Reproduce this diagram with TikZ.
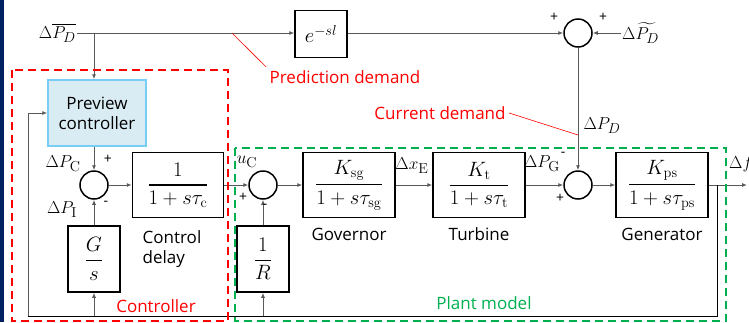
\documentclass[tikz,border=0pt]{standalone}
\usepackage{amsmath}
\usepackage[no-math]{fontspec}
\setmainfont{Open Sans}
\usepackage{xcolor}
\definecolor{ctrlred}{RGB}{255,0,0}
\definecolor{plantgreen}{RGB}{0,176,80}
\definecolor{pvfill}{RGB}{218,236,243}
\definecolor{pvedge}{RGB}{120,205,245}
\definecolor{linegray}{RGB}{89,89,89}
\definecolor{slidenavy}{RGB}{0,32,96}
\usetikzlibrary{arrows.meta, positioning, calc}
\newcommand{\blkfrac}[2]{\genfrac{}{}{1.3pt}{0}{#1}{#2}}

\begin{document}
\begin{tikzpicture}[x=1pt, y=-1pt,
  font=\fontsize{17}{20}\selectfont,
  blk/.style={draw=black, line width=1.5pt, fill=white, inner sep=0pt, font=\fontsize{19.5}{22}\selectfont},
  sumc/.style={draw=black, line width=1.5pt, circle, minimum size=28pt, inner sep=0pt},
  sig/.style={linegray, line width=0.9pt, -{Latex[length=5pt,width=4pt]}},
  sigl/.style={font=\fontsize{19}{22}\selectfont, inner sep=1pt},
  sgn/.style={font=\fontsize{14}{14}\selectfont}]
  \useasboundingbox (0,0) rectangle (749,322);
  % Slide edge
  \fill[slidenavy] (0,0) rectangle (4,322);

  % Top line -- demand prediction
  \node[sigl, anchor=east] (pdbar) at (77,33) {$\Delta\overline{P_D}$};
  \node[blk, minimum width=52pt, minimum height=47pt] (esl) at (321,34) {$e^{-sl}$};
  \node[sumc] (sumd) at (578,33) {};
  \node[sigl, anchor=west] (pdtil) at (621,33) {$\Delta\widetilde{P_D}$};
  \draw[sig] (pdbar.east) -- (pdbar.east -| esl.west);
  \draw[sig] (pdbar.east -| esl.east) -- (sumd.west);
  \draw[sig] (pdtil.west) -- (sumd.east);
  \node[sgn] at (554,17) {+};
  \node[sgn] at (603,17) {+};

  % Controller
  \coordinate (br) at (94,33);
  \node[draw=pvedge, fill=pvfill, line width=1.5pt, minimum width=98pt, minimum height=66pt,
        align=center] (prev) at (97,113) {Preview\\controller};
  \draw[sig] (br) -- (br |- prev.north);
  \node[sumc] (sumc1) at (94,185) {};
  \draw[sig] (sumc1 |- prev.south) -- (sumc1.north);
  \node[blk, minimum width=52pt, minimum height=66pt] (gs) at (94,259) {$\blkfrac{G}{s}$};
  \draw[sig] (gs.north) -- (sumc1.south);
  \node[blk, minimum width=91pt, minimum height=65pt] (cdel) at (178,185)
       {$\blkfrac{1}{1+s\tau_{\mathrm{c}}}$};
  \draw[sig] (sumc1.east) -- (cdel.west);

  % Plant
  \node[sumc] (sumu) at (263,185) {};
  \draw[sig] (cdel.east) -- (sumu.west);
  \node[blk, minimum width=52pt, minimum height=66pt] (invr) at (263,259) {$\blkfrac{1}{R}$};
  \draw[sig] (invr.north) -- (sumu.south);
  \node[blk, minimum width=92pt, minimum height=65pt] (gov) at (349,185)
       {$\blkfrac{K_{\mathrm{sg}}}{1+s\tau_{\mathrm{sg}}}$};
  \node[blk, minimum width=92pt, minimum height=65pt] (tur) at (479,185)
       {$\blkfrac{K_{\mathrm{t}}}{1+s\tau_{\mathrm{t}}}$};
  \node[sumc] (sumg) at (578,185) {};
  \node[blk, minimum width=92pt, minimum height=65pt] (gen) at (662,185)
       {$\blkfrac{K_{\mathrm{ps}}}{1+s\tau_{\mathrm{ps}}}$};
  \draw[sig] (sumu.east) -- (gov.west);
  \draw[sig] (gov.east) -- (tur.west);
  \draw[sig] (tur.east) -- (sumg.west);
  \draw[sig] (sumg.east) -- (gen.west);
  \draw[sig] (sumd.south) -- (sumg.north);
  \coordinate (fout) at (747,185);
  \draw[sig] (gen.east) -- (fout);

  % Feedback
  \coordinate (fbr) at (717,185);
  \coordinate (fbb) at (717,316);
  \coordinate (fbl) at (28,316);
  \draw[black, line width=0.9pt] (fbr) -- (fbb) -- (fbl);
  \draw[sig] (fbl) |- (prev.west);
  \draw[sig] (fbb -| gs) -- (gs.south);
  \draw[sig] (fbb -| invr) -- (invr.south);

  % Dashed groups
  \draw[ctrlred, line width=2pt, dash pattern=on 8pt off 5pt] (12,70) rectangle (228,321);
  \draw[plantgreen, line width=2pt, dash pattern=on 8pt off 5pt] (235,148) rectangle (726,321);

  % Signal labels
  \node[sigl] at (602,126) {$\Delta P_D$};
  \node[sigl] at (63,164) {$\Delta P_{\mathrm{C}}$};
  \node[sigl] at (62,210) {$\Delta P_{\mathrm{I}}$};
  \node[sigl] at (247,162) {$u_{\mathrm{C}}$};
  \node[sigl] at (412,166) {$\Delta x_{\mathrm{E}}$};
  \node[sigl] at (542,164) {$\Delta P_{\mathrm{G}}$};
  \node[sigl, anchor=west] at (728,164) {$\Delta f$};
  \node[sgn] at (108,159) {+};
  \node[sgn] at (106,203) {-};
  \node[sgn] at (243,197) {+};
  \node[sgn] at (265,206) {-};
  \node[sgn] at (563,154) {-};
  \node[sgn] at (560,198) {+};

  % Block names
  \node[align=left] (cdlbl) at (172,249) {Control\\delay};
  \node[below=6pt of gov] (govlbl) {Governor};
  \node[below=6pt of tur] (turlbl) {Turbine};
  \node[below=6pt of gen] (genlbl) {Generator};
  \node[ctrlred] (ctrllbl) at (156,306) {Controller};
  \node[plantgreen] (plantlbl) at (484,303) {Plant model};

  % Annotations
  \node[ctrlred] (predlbl) at (345,77) {Prediction demand};
  \node[ctrlred] (curlbl) at (440,113) {Current demand};
  \coordinate (predpt) at (232,33);
  \coordinate (curpt) at (578,135);
  \draw[ctrlred, line width=0.6pt] (predpt) -- (predlbl.north west);
  \draw[ctrlred, line width=0.6pt] (curlbl.east) -- (curpt);
\end{tikzpicture}
\end{document}
